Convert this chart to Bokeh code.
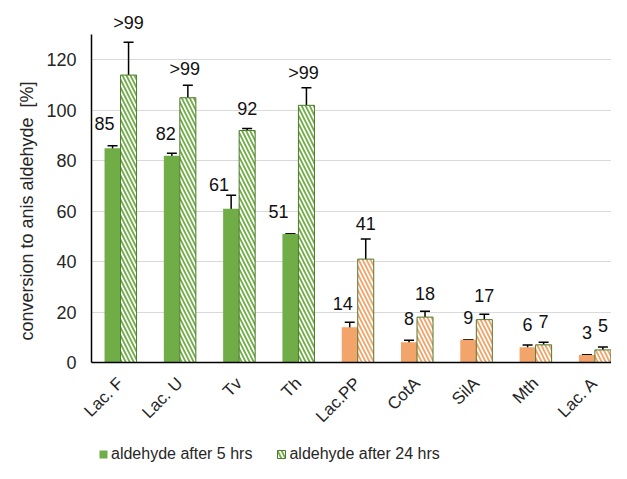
import numpy as np
from bokeh.plotting import figure
from bokeh.models import (ColumnDataSource, Whisker, TeeHead, FixedTicker, Legend,
                          LegendItem, Range1d, LabelSet)
from bokeh.layouts import column
from bokeh.core.properties import value
from bokeh.embed import file_html
from bokeh.resources import INLINE

categories = ["Lac. F", "Lac. U", "Tv", "Th", "Lac.PP", "CotA", "SilA", "Mth", "Lac. A"]
conv_5h = [85, 82, 61, 51, 14, 8, 9, 6, 3]
err_5h = [1, 1, 5.3, 0, 2, 0.8, 0, 0.9, 0]
conv_24h = [114, 105, 92, 102, 41, 18, 17, 7, 5]
err_24h = [13, 5, 0.8, 7, 8, 2.3, 2.1, 1, 1.1]
labels_5h = ["85", "82", "61", "51", "14", "8", "9", "6", "3"]
labels_24h = [">99", ">99", "92", ">99", "41", "18", "17", "7", "5"]
y_ticks = [0, 20, 40, 60, 80, 100, 120]
y_axis_max = 130
y_title = "conversion to anis aldehyde\u00a0\u00a0[%]"
series_names = ["aldehyde after 5 hrs", "aldehyde after 24 hrs"]

# styles
GREEN = "#70AD47"
ORANGE = "#F2A46B"
OUTLINE = "#4E7A2E"
TXT = "#262626"
bar_colors = [GREEN] * 4 + [ORANGE] * 5
lab5_dx = [-8, -6, -12, -12, -7, 0, 0, 0, 0]
lab5_dy = [22, 20, 11, 22, 19, 22, 22, 21, 22]
lab24_dx = [0, -3, 0, -3, 0, 0, 0, 0, 0]
lab24_dy = [19, 16, 20, 15, 15, 18, 19, 21, 22]
FONT = "Liberation Sans"
BW = 0.27

x = np.arange(len(categories))
src5 = ColumnDataSource(dict(
    x=x - BW / 2, top=conv_5h, color=bar_colors,
    upper=np.array(conv_5h) + np.array(err_5h), lower=np.array(conv_5h) - np.array(err_5h),
    label=labels_5h, dx=lab5_dx, dy=lab5_dy))
src24 = ColumnDataSource(dict(
    x=x + BW / 2, top=conv_24h, color=bar_colors,
    upper=np.array(conv_24h) + np.array(err_24h), lower=np.array(conv_24h) - np.array(err_24h),
    label=labels_24h, dx=lab24_dx, dy=lab24_dy))

p = figure(width=611, height=438, output_backend="svg", toolbar_location=None,
           x_range=Range1d(-0.49, 8.28), y_range=Range1d(0, 140),
           min_border_left=91, min_border_top=9, min_border_bottom=76, min_border_right=0)
p.outline_line_color = None

r5 = p.vbar(x="x", top="top", width=BW, source=src5, fill_color="color", line_color=None)
hatch = dict(hatch_pattern="left_diagonal_line", hatch_color="white",
             hatch_weight=1.7, hatch_scale=8)
r24 = p.vbar(x="x", top="top", width=BW, source=src24, fill_color="color",
             line_color=OUTLINE, line_width=1, **hatch)

for s in (src5, src24):
    w = Whisker(source=s, base="x", upper="upper", lower="lower", line_color="black",
                line_width=1.5,
                upper_head=TeeHead(size=10, line_color="black", line_width=1.5),
                lower_head=TeeHead(size=10, line_color="black", line_width=1.5))
    p.add_layout(w)
    ls = LabelSet(source=s, x="x", y="upper", text="label", x_offset="dx", y_offset="dy",
                  text_align="center", text_baseline="middle", text_font=value(FONT),
                  text_font_size="18px", text_color="#111111")
    p.add_layout(ls)

p.xaxis.ticker = FixedTicker(ticks=list(x))
p.xaxis.major_label_overrides = {int(i): c for i, c in zip(x, categories)}
p.xaxis.major_label_orientation = np.pi / 4
p.xaxis.major_label_text_font = FONT
p.xaxis.major_label_text_font_size = "17px"
p.xaxis.major_label_text_color = TXT
p.xaxis.major_tick_line_color = None
p.xaxis.minor_tick_line_color = None
p.xaxis.axis_line_color = "black"
p.xaxis.axis_line_width = 1.5
p.xaxis.major_label_standoff = 12

p.yaxis.bounds = (0, y_axis_max)
p.yaxis.ticker = FixedTicker(ticks=y_ticks)
p.yaxis.major_label_text_font = FONT
p.yaxis.major_label_text_font_size = "18px"
p.yaxis.major_label_text_color = TXT
p.yaxis.major_tick_line_color = None
p.yaxis.minor_tick_line_color = None
p.yaxis.axis_line_color = "black"
p.yaxis.axis_line_width = 1.5
p.yaxis.major_label_standoff = 9
p.yaxis.axis_label = y_title + "\u00a0" * 10
p.yaxis.axis_label_text_font = FONT
p.yaxis.axis_label_text_font_size = "18px"
p.yaxis.axis_label_text_font_style = "normal"
p.yaxis.axis_label_text_color = TXT
p.yaxis.axis_label_standoff = 6

p.xgrid.grid_line_color = None
p.ygrid.grid_line_color = "#D9D9D9"
p.ygrid.grid_line_width = 1

# legend strip below the chart (proxy glyphs placed outside the visible range)
leg = figure(width=611, height=25, output_backend="svg", toolbar_location=None,
             x_range=Range1d(0, 1), y_range=Range1d(0, 1),
             min_border=0)
leg.axis.visible = False
leg.grid.visible = False
leg.outline_line_color = None
proxy = dict(x=[5], top=[5])
g5 = leg.vbar(x="x", top="top", width=0.1, source=ColumnDataSource(proxy),
              fill_color=GREEN, line_color=None)
g24 = leg.vbar(x="x", top="top", width=0.1, source=ColumnDataSource(proxy),
               fill_color=GREEN, line_color=OUTLINE, line_width=1, **hatch)
legend = Legend(items=[LegendItem(label=series_names[0], renderers=[g5], index=0),
                       LegendItem(label=series_names[1], renderers=[g24], index=0)],
                orientation="horizontal", location=(7, 0),
                label_text_font=FONT, label_text_font_size="16px", label_text_color=TXT,
                glyph_width=10, glyph_height=10, label_height=16, label_standoff=3,
                spacing=24, padding=0, margin=0, border_line_color=None,
                background_fill_alpha=0)
leg.add_layout(legend, "center")

layout = column(p, leg, spacing=0)
open("out.html", "w").write(file_html(layout, INLINE))
